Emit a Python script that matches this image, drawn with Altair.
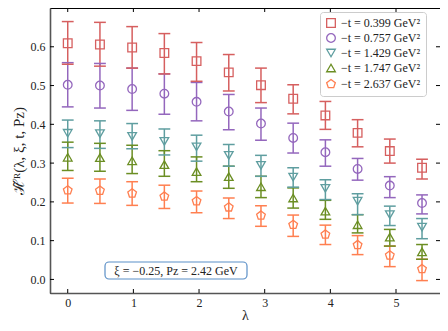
import altair as alt
import pandas as pd

step = 0.04 * 2.42 / 0.197327
lam = [round(n * step, 4) for n in range(12)]

series = ["−t = 0.399 GeV²", "−t = 0.757 GeV²", "−t = 1.429 GeV²",
          "−t = 1.747 GeV²", "−t = 2.637 GeV²"]
colors = ["#d65f5f", "#9467bd", "#5f9ea0", "#6b8e23", "#ff7f50"]
pent = "M0,-1.05L1,-0.3L0.62,0.85L-0.62,0.85L-1,-0.3Z"
shapes = ["square", "circle", "triangle-down", "triangle-up", pent]

red_c = [0.609, 0.606, 0.598, 0.584, 0.563, 0.534, 0.501, 0.466, 0.423, 0.378, 0.331, 0.288]
red_hi = [0.665, 0.663, 0.652, 0.634, 0.611, 0.580, 0.545, 0.502, 0.459, 0.412, 0.362, 0.310]
red_lo = [0.555, 0.550, 0.545, 0.530, 0.511, 0.486, 0.456, 0.427, 0.387, 0.342, 0.300, 0.259]

pur_c = [0.502, 0.500, 0.491, 0.479, 0.458, 0.433, 0.402, 0.365, 0.328, 0.285, 0.242, 0.197]
pur_hi = [0.559, 0.557, 0.545, 0.530, 0.508, 0.477, 0.442, 0.403, 0.360, 0.312, 0.265, 0.218]
pur_lo = [0.445, 0.442, 0.436, 0.426, 0.409, 0.386, 0.359, 0.326, 0.292, 0.256, 0.211, 0.169]

tea_c = [0.377, 0.376, 0.369, 0.356, 0.342, 0.320, 0.294, 0.264, 0.235, 0.202, 0.167, 0.135]
tea_hi = [0.411, 0.409, 0.402, 0.388, 0.372, 0.348, 0.320, 0.288, 0.257, 0.221, 0.189, 0.157]
tea_lo = [0.340, 0.338, 0.337, 0.321, 0.305, 0.292, 0.266, 0.238, 0.206, 0.167, 0.139, 0.105]

grn_c = [0.315, 0.314, 0.306, 0.296, 0.278, 0.265, 0.239, 0.210, 0.176, 0.141, 0.109, 0.071]
grn_hi = [0.354, 0.351, 0.346, 0.332, 0.316, 0.292, 0.266, 0.236, 0.204, 0.167, 0.129, 0.090]
grn_lo = [0.281, 0.279, 0.273, 0.266, 0.252, 0.235, 0.211, 0.184, 0.155, 0.120, 0.086, 0.052]

org_c = [0.230, 0.229, 0.222, 0.214, 0.202, 0.186, 0.165, 0.141, 0.116, 0.089, 0.062, 0.027]
org_hi = [0.261, 0.259, 0.252, 0.243, 0.228, 0.210, 0.190, 0.166, 0.140, 0.113, 0.086, 0.052]
org_lo = [0.197, 0.196, 0.191, 0.183, 0.172, 0.157, 0.137, 0.111, 0.090, 0.064, 0.033, -0.003]

x_ticks = [0, 1, 2, 3, 4, 5]
y_ticks = [0.0, 0.1, 0.2, 0.3, 0.4, 0.5, 0.6]

rows = []
for s, c, hi, lo in zip(series,
                        [red_c, pur_c, tea_c, grn_c, org_c],
                        [red_hi, pur_hi, tea_hi, grn_hi, org_hi],
                        [red_lo, pur_lo, tea_lo, grn_lo, org_lo]):
    for l, v, h, w in zip(lam, c, hi, lo):
        rows.append({"lam": l, "val": v, "hi": h, "lo": w, "series": s})
df = pd.DataFrame(rows)

W, H = 390, 285
FONT = "Liberation Serif"
CAP = 0.09  # half cap width in λ units

xs = alt.Scale(domain=[-0.27, 5.67], nice=False, zero=False)
ys = alt.Scale(domain=[-0.035, 0.70], nice=False, zero=False)
cs = alt.Scale(domain=series, range=colors)
ss = alt.Scale(domain=series, range=shapes)

leg = alt.Legend(title=None, orient="none", legendX=270, legendY=4,
                 labelFont=FONT, labelFontSize=12, labelColor="#222222",
                 symbolSize=75, symbolStrokeWidth=1.3, symbolFillColor="transparent",
                 rowPadding=1, padding=5, fillColor="white",
                 strokeColor="#cccccc", cornerRadius=3, labelLimit=200)

base = alt.Chart(df)

err = base.mark_rule(strokeWidth=1.5).encode(
    x=alt.X("lam:Q", scale=xs,
            axis=alt.Axis(values=x_ticks, title="λ", format="d", tickSize=0,
                          labelPadding=4, titlePadding=0, titleFontSize=14,
                          titleFontWeight="normal", titleFont=FONT, grid=False)),
    y=alt.Y("lo:Q", scale=ys,
            axis=alt.Axis(values=y_ticks, title="ℋ̃ᴿ(λ, ξ, t, Pz)", format=".1f",
                          tickSize=0, labelPadding=5, titlePadding=4, titleFontSize=15,
                          titleFontWeight="normal", titleFont=FONT, grid=False)),
    y2="hi:Q",
    color=alt.Color("series:N", scale=cs, legend=leg),
)
caps = base.transform_calculate(a=f"datum.lam - {CAP}", b=f"datum.lam + {CAP}")
cap_hi = caps.mark_rule(strokeWidth=1.5).encode(
    x=alt.X("a:Q", scale=xs), x2="b:Q", y=alt.Y("hi:Q", scale=ys),
    color=alt.Color("series:N", scale=cs, legend=leg))
cap_lo = caps.mark_rule(strokeWidth=1.5).encode(
    x=alt.X("a:Q", scale=xs), x2="b:Q", y=alt.Y("lo:Q", scale=ys),
    color=alt.Color("series:N", scale=cs, legend=leg))

pts = base.mark_point(filled=False, size=75, strokeWidth=1.3, opacity=1).encode(
    x=alt.X("lam:Q", scale=xs), y=alt.Y("val:Q", scale=ys),
    color=alt.Color("series:N", scale=cs, legend=leg),
    shape=alt.Shape("series:N", scale=ss, legend=leg),
)

ydf = pd.DataFrame({"t": y_ticks})
xdf = pd.DataFrame({"t": x_ticks})
yt_l = alt.Chart(ydf).mark_rule(color="black", strokeWidth=1).encode(
    y=alt.Y("t:Q", scale=ys), x=alt.value(0), x2=alt.value(4))
yt_r = alt.Chart(ydf).mark_rule(color="black", strokeWidth=1).encode(
    y=alt.Y("t:Q", scale=ys), x=alt.value(W - 4), x2=alt.value(W))
xt_b = alt.Chart(xdf).mark_rule(color="black", strokeWidth=1).encode(
    x=alt.X("t:Q", scale=xs), y=alt.value(H - 4), y2=alt.value(H))
xt_t = alt.Chart(xdf).mark_rule(color="black", strokeWidth=1).encode(
    x=alt.X("t:Q", scale=xs), y=alt.value(0), y2=alt.value(4))

box = alt.Chart(pd.DataFrame({"a": [0]})).mark_rect(
    fill="white", stroke="#5b8fc7", strokeWidth=1.2, cornerRadius=4).encode(
    x=alt.value(55), x2=alt.value(197), y=alt.value(254), y2=alt.value(271))
label = alt.Chart(pd.DataFrame({"a": [0]})).mark_text(
    text="ξ = −0.25, Pz = 2.42 GeV", font=FONT, fontSize=12, color="#222222",
    align="center", baseline="middle").encode(
    x=alt.value(126), y=alt.value(262.5))

chart = alt.layer(err, cap_hi, cap_lo, pts, yt_l, yt_r, xt_b, xt_t, box, label).properties(
    width=W, height=H,
    autosize=alt.AutoSizeParams(type="none"),
    padding={"left": 42, "top": 0, "right": 0, "bottom": 30},
).configure_view(stroke="black", strokeWidth=1).configure_axis(
    domainColor="#555555", domainWidth=1.6, labelFont=FONT, labelFontSize=12,
    labelColor="#222222", titleColor="#222222"
)

chart.save("out.html", embed_options={"renderer": "svg", "actions": False})
